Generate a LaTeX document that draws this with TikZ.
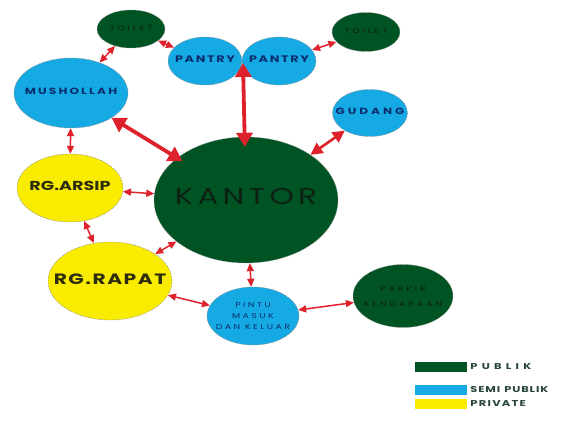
\documentclass[tikz,border=0pt]{standalone}
\usepackage{fontspec}
\setmainfont{Poppins}
\newfontfamily\roomfont{Poppins}[FakeStretch=1.35]
% size, baseline, letter spacing
\newcommand{\roomsize}[3]{\roomfont\fontsize{#1}{#2}\selectfont\addfontfeatures{LetterSpace=#3}}
\newcommand{\roombold}[3]{\roomfont\bfseries\fontsize{#1}{#2}\selectfont\addfontfeatures{LetterSpace=#3}}
% text that does not widen the ellipse
\newcommand{\roomname}[1]{\makebox[0pt]{\begin{tabular}{@{}c@{}}#1\end{tabular}}}
\usetikzlibrary{shapes.geometric,arrows.meta}
\definecolor{publikgreen}{RGB}{0,84,36}
\definecolor{semiblue}{RGB}{22,170,228}
\definecolor{privyellow}{RGB}{250,236,0}
\definecolor{linkred}{RGB}{222,34,44}
\definecolor{bluetext}{RGB}{10,45,110}
\definecolor{greentext}{RGB}{12,32,20}
\definecolor{yellowtext}{RGB}{45,45,10}
\definecolor{keytext}{RGB}{40,70,55}
\begin{document}
\begin{tikzpicture}[x=1pt,y=-1pt,
    room/.style={ellipse, inner sep=0pt, align=center, draw=black!45, line width=0.4pt, dash pattern=on 2pt off 1pt},
    publik/.style={room, fill=publikgreen, text=greentext},
    semi/.style={room, fill=semiblue, text=bluetext},
    private/.style={room, fill=privyellow, text=yellowtext},
    thinlink/.style={draw=linkred, line width=1.5pt, {Triangle[width=7pt,length=8pt]}-{Triangle[width=7pt,length=8pt]}},
    midlink/.style={draw=linkred, line width=2.6pt, {Triangle[width=12pt,length=12pt]}-{Triangle[width=12pt,length=12pt]}},
    biglink/.style={draw=linkred, line width=3.8pt, {Triangle[width=16pt,length=14pt]}-{Triangle[width=16pt,length=14pt]}},
    swatch/.style={rectangle, inner sep=0pt, minimum width=52pt, minimum height=10pt},
    keylabel/.style={anchor=west, inner sep=0pt, text=keytext}]

    \useasboundingbox (0,0) rectangle (586,422);

    % rooms
    \draw (131,29)  node [publik, minimum width=68pt, minimum height=38pt, font=\roomsize{7}{8}{40}] (toiletA) {\roomname{TOILET}};
    \draw (205,61)  node [semi, minimum width=74pt, minimum height=48pt, font=\roombold{9.5}{10}{17}] (pantryA) {\roomname{PANTRY}};
    \draw (279,61)  node [semi, minimum width=74pt, minimum height=48pt, font=\roombold{9.5}{10}{17}] (pantryB) {\roomname{PANTRY}};
    \draw (366,32)  node [publik, minimum width=68pt, minimum height=39pt, font=\roomsize{7}{8}{40}] (toiletB) {\roomname{TOILET}};
    \draw (71,93)   node [semi, minimum width=114pt, minimum height=70pt, font=\roombold{9}{10}{24}] (mushollah) {\roomname{MUSHOLLAH}};
    \draw (370,113) node [semi, minimum width=75pt, minimum height=47pt, font=\roombold{9}{10}{33}] (gudang) {\roomname{GUDANG}};
    \draw (246,200) node [publik, minimum width=184pt, minimum height=126pt, font=\roomsize{23}{24}{18}] (kantor) {\roomname{KANTOR}};
    \draw (70,188)  node [private, minimum width=106pt, minimum height=68pt, font=\roombold{13}{15}{0}] (arsip) {\roomname{RG.ARSIP}};
    \draw (110,281) node [private, minimum width=124pt, minimum height=78pt, font=\roombold{15}{16}{10}] (rapat) {\roomname{RG.RAPAT}};
    \draw (253,316) node [semi, minimum width=92pt, minimum height=58pt, font=\roomsize{7}{11}{34}] (pintu) {\roomname{PINTU\\MASUK\\DAN\hspace{0.7em}KELUAR}};
    \draw (403,296) node [publik, minimum width=100pt, minimum height=63pt, font=\roomsize{7}{15}{41}] (parkir) {\roomname{PARKIR\\KENDARAAN}};
    \coordinate (pantryjoin) at (243,63);

    % links
    \draw [thinlink] (toiletA) -- (mushollah);
    \draw [thinlink] (toiletA) -- (pantryA);
    \draw [thinlink] (pantryB) -- (toiletB);
    \draw [biglink, shorten >=-10pt] (pantryjoin) -- (kantor);
    \draw [biglink, shorten >=-6pt] (mushollah) -- (kantor);
    \draw [midlink] (gudang) -- (kantor);
    \draw [thinlink] (mushollah) -- (arsip);
    \draw [thinlink] (arsip) -- (kantor);
    \draw [thinlink] (arsip) -- (rapat);
    \draw [thinlink] (rapat) -- (kantor);
    \draw [thinlink] (rapat) -- (pintu);
    \draw [thinlink] (kantor) -- (pintu);
    \draw [thinlink] (pintu) -- (parkir);

    % key
    \draw (441,367) node [swatch, fill=publikgreen] (keyPublik) {};
    \draw (441,390) node [swatch, fill=semiblue] (keySemi) {};
    \draw (441,404) node [swatch, fill=privyellow] (keyPrivate) {};
    \draw (keyPublik.east)  ++(3,0) node [keylabel, font=\roombold{8.5}{9}{50}] (keyPublikText) {PUBLIK};
    \draw (keySemi.east)    ++(3,0) node [keylabel, font=\roombold{8.5}{9}{10}] (keySemiText) {SEMI\hspace{0.5em}PUBLIK};
    \draw (keyPrivate.east) ++(3,0) node [keylabel, font=\roombold{8.5}{9}{15}] (keyPrivateText) {PRIVATE};

\end{tikzpicture}
\end{document}
